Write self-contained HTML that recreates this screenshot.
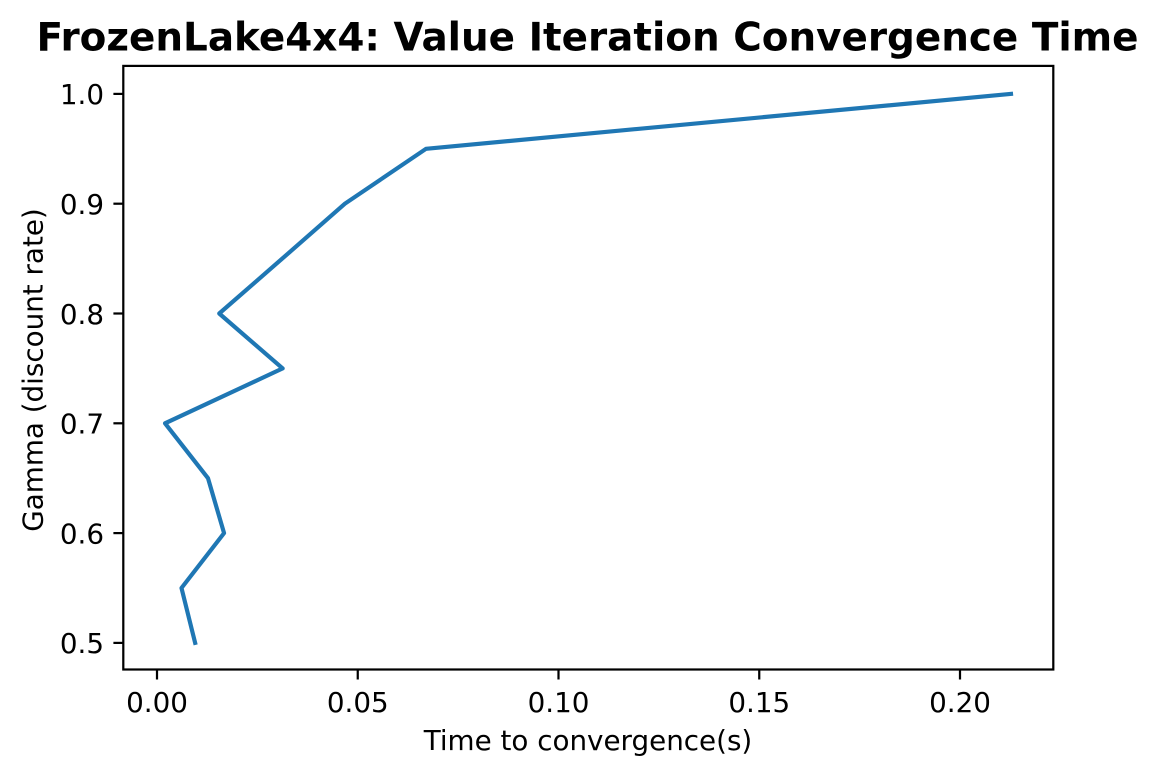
<!DOCTYPE html>
<html lang="en">
<head>
<meta charset="utf-8">
<title>FrozenLake4x4: Value Iteration Convergence Time</title>
<style>
html,body{margin:0;padding:0;background:#fff;width:1158px;height:777px;overflow:hidden}
svg{display:block}
text{font-family:"DejaVu Sans",sans-serif;fill:#000}
</style>
</head>
<body>
<svg id="chart" width="1158" height="777" viewBox="0 0 1158 777" xmlns="http://www.w3.org/2000/svg">
  <rect x="0" y="0" width="1158" height="777" fill="#fff"/>
  <text x="587.5" y="50.4" text-anchor="middle" font-size="38.89" font-weight="700">FrozenLake4x4: Value Iteration Convergence Time</text>
  <g id="x-ticks"></g>
  <g id="y-ticks"></g>
  <polyline id="series" fill="none" stroke="#1f77b4" stroke-width="4.17" stroke-linecap="square" stroke-linejoin="round"></polyline>
  <rect x="123.3" y="65.9" width="930" height="603.6" fill="none" stroke="#000" stroke-width="2.22"/>
  <text x="588" y="750" text-anchor="middle" font-size="27.78">Time to convergence(s)</text>
  <text transform="translate(42.5 370) rotate(-90)" text-anchor="middle" font-size="27.78">Gamma (discount rate)</text>
</svg>
<script>
const gammaValues = [0.5, 0.55, 0.6, 0.65, 0.7, 0.75, 0.8, 0.85, 0.9, 0.95, 1.0];
const timeValues = [0.0095, 0.0061, 0.0167, 0.0127, 0.0020, 0.0313, 0.0155, 0.0312, 0.0468, 0.0670, 0.2127];
const xTickValues = [0, 0.05, 0.1, 0.15, 0.2];
const xTickLabels = ['0.00', '0.05', '0.10', '0.15', '0.20'];
const yTickValues = [0.5, 0.6, 0.7, 0.8, 0.9, 1.0];
const yTickLabels = ['0.5', '0.6', '0.7', '0.8', '0.9', '1.0'];

const NS = 'http://www.w3.org/2000/svg';
function xScale(v) { return 157 + v * 4015; }
function yScale(v) { return 642.9 - (v - 0.5) * 1098; }

function makeSvg(tag, attrs) {
  const el = document.createElementNS(NS, tag);
  for (const k in attrs) el.setAttribute(k, attrs[k]);
  return el;
}

const xGroup = document.getElementById('x-ticks');
xTickValues.forEach(function (v, i) {
  const x = xScale(v);
  const tick = makeSvg('line', { x1: x, x2: x, y1: 669.5, y2: 679.5, stroke: '#000', 'stroke-width': 2.22 });
  
  
  xGroup.appendChild(tick);
  const label = makeSvg('text', { x: x, y: 712, 'text-anchor': 'middle', 'font-size': 27.78 });
  
  
  label.textContent = xTickLabels[i];
  xGroup.appendChild(label);
});

const yGroup = document.getElementById('y-ticks');
yTickValues.forEach(function (v, i) {
  const y = yScale(v);
  const tick = makeSvg('line', { x1: 113.4, x2: 123.3, y1: y, y2: y, stroke: '#000', 'stroke-width': 2.22 });
  
  
  yGroup.appendChild(tick);
  const label = makeSvg('text', { x: 104, y: y + 10.3, 'text-anchor': 'end', 'font-size': 27.78 });
  
  
  label.textContent = yTickLabels[i];
  yGroup.appendChild(label);
});

document.getElementById('series').setAttribute('points', gammaValues.map(function (g, i) {
  return xScale(timeValues[i]).toFixed(2) + ',' + yScale(g).toFixed(2);
}).join(' '));
</script>
</body>
</html>
